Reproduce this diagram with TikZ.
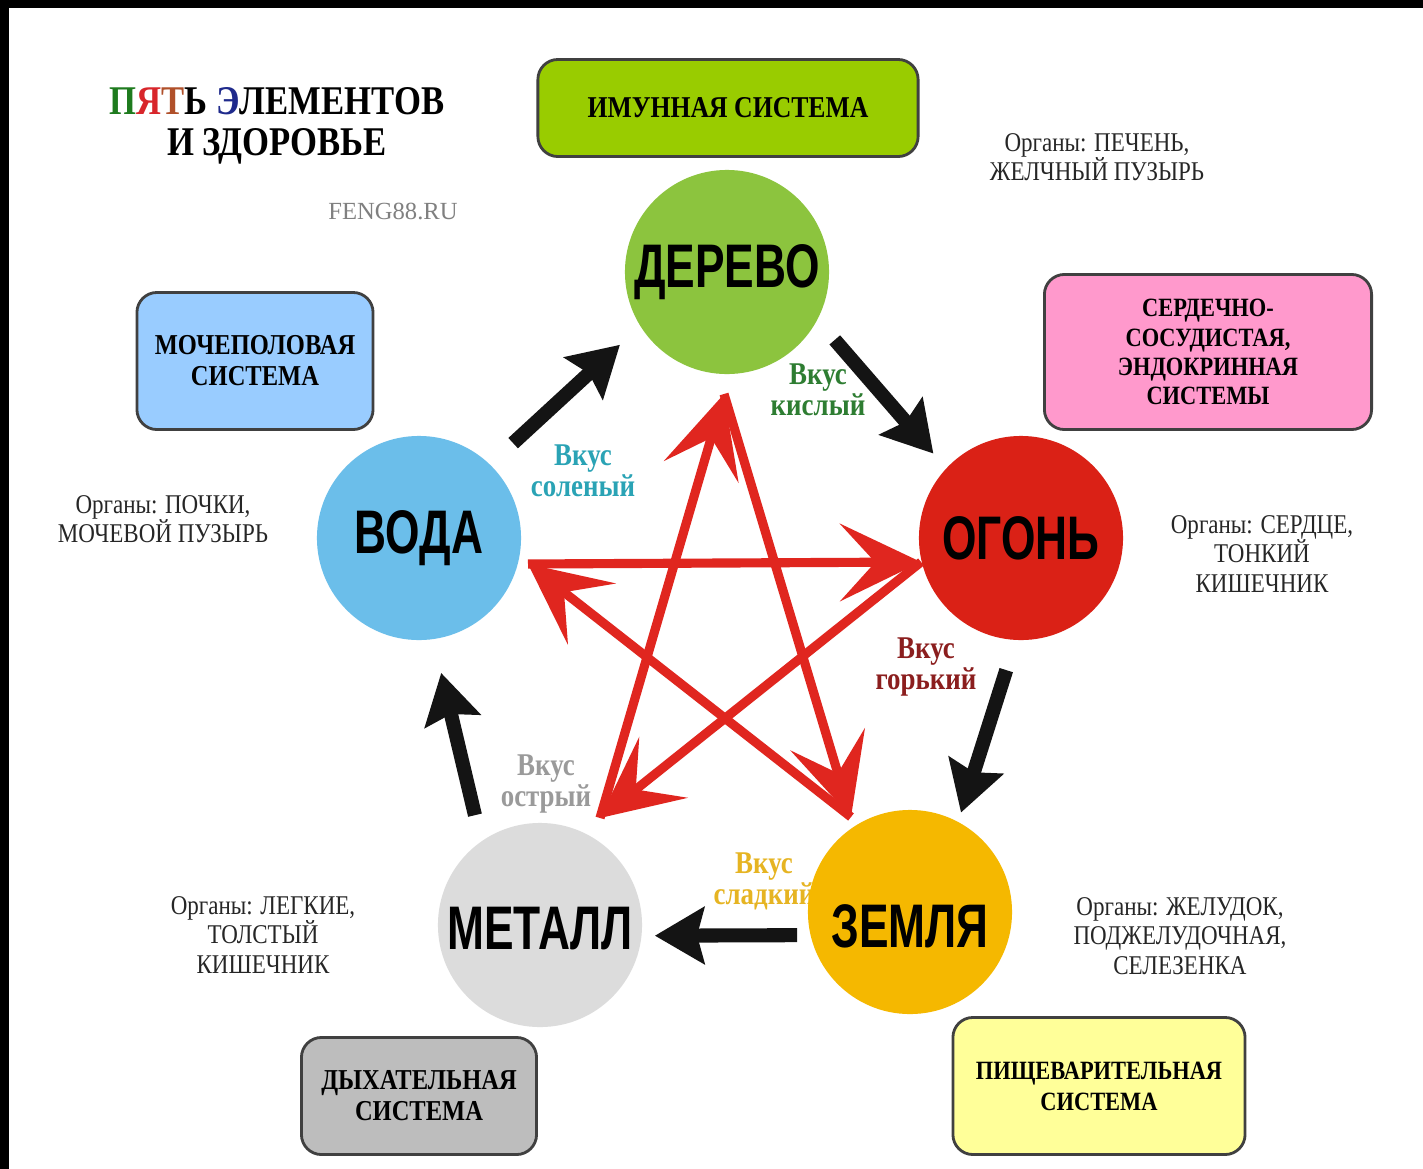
\documentclass[tikz,border=0pt]{standalone}
\usepackage{fontspec}
\setmainfont{Liberation Serif}
\newfontfamily\narrowserif[FakeStretch=0.85]{Liberation Serif}
\newfontfamily\narrowsans[FakeStretch=0.72]{Liberation Sans}
\usetikzlibrary{arrows.meta}

\definecolor{woodgreen}{HTML}{8CC43E}
\definecolor{firered}{HTML}{DA2116}
\definecolor{earthyellow}{HTML}{F5B800}
\definecolor{metalgray}{HTML}{DCDCDC}
\definecolor{waterblue}{HTML}{6BBEEA}
\definecolor{immunegreen}{HTML}{99CC00}
\definecolor{urinblue}{HTML}{99CCFF}
\definecolor{cardiopink}{HTML}{FF99CC}
\definecolor{respgray}{HTML}{BDBDBD}
\definecolor{digestyellow}{HTML}{FFFF99}
\definecolor{starred}{HTML}{E0261F}
\definecolor{arrowblack}{HTML}{141414}
\definecolor{sourgreen}{HTML}{2E7D32}
\definecolor{saltteal}{HTML}{2AA3B5}
\definecolor{bitterred}{HTML}{8B1E1E}
\definecolor{spicygray}{HTML}{9A9A9A}
\definecolor{sweetgold}{HTML}{E6B422}
\definecolor{titlegreen}{HTML}{1E7B1E}
\definecolor{titlered}{HTML}{D8262B}
\definecolor{titlebrown}{HTML}{B0502A}
\definecolor{titleblue}{HTML}{1F2A8C}

\begin{document}
\begin{tikzpicture}[x=0.01cm, y=-0.01cm]
\tikzstyle{element} = [circle, minimum size=2.04cm, inner sep=0pt, font=\narrowsans\bfseries\fontsize{17.5}{20}\selectfont]
\tikzstyle{system} = [draw=black!75, line width=0.8pt, rounded corners=2mm, align=center, font=\narrowserif\bfseries\fontsize{8.2}{8.8}\selectfont]
\tikzstyle{organs} = [align=center, text=black!85, font=\narrowserif\fontsize{7.7}{8.3}\selectfont]
\tikzstyle{taste} = [align=center, font=\narrowserif\bfseries\fontsize{9}{8.8}\selectfont]
\tikzstyle{feed} = [-{Stealth[length=14pt, width=16pt, inset=2pt]}, line width=4pt, draw=arrowblack]
\tikzstyle{control} = [-{Stealth[length=23pt, width=22pt, inset=10pt]}, line width=2.6pt, draw=starred]

% background and frame
\fill[black] (0,0) rectangle (1423,1169);
\fill[white] (9,8) rectangle (1423,1169);
\useasboundingbox (0,0) rectangle (1423,1169);

% title
\node[align=center, font=\narrowserif\bfseries\fontsize{11.6}{11.7}\selectfont] (title) at (277,126)
  {\textcolor{titlegreen}{П}\textcolor{titlered}{Я}\textcolor{titlebrown}{Т}Ь \textcolor{titleblue}{Э}ЛЕМЕНТОВ\\И ЗДОРОВЬЕ};
\node[text=gray, font=\fontsize{7}{8}\selectfont] (site) at (393,211) {FENG88.RU};

% tastes
\node[taste, text=sourgreen] (sour) at (818,390) {Вкус\\кислый};
\node[taste, text=saltteal] (salty) at (583,471) {Вкус\\соленый};
\node[taste, text=bitterred] (bitter) at (926,667) {Вкус\\горький};
\node[taste, text=spicygray] (spicy) at (546,784) {Вкус\\острый};
\node[taste, text=sweetgold] (sweet) at (764,881) {Вкус\\сладкий};

% elements
\node[element, fill=woodgreen] (wood) at (727,272) {ДЕРЕВО};
\node[element, fill=firered] (fire) at (1021,538) {ОГОНЬ};
\node[element, fill=earthyellow] (earth) at (910,912) {\raisebox{-4pt}[\height][\depth]{ЗЕМЛЯ}};
\node[element, fill=metalgray] (metal) at (540,925) {\raisebox{-1pt}[\height][\depth]{МЕТАЛЛ}};
\node[element, fill=waterblue] (water) at (419,538) {ВОДА};

% generating cycle
\draw[feed, shorten <=8.8pt, shorten >=7.7pt] (water.46) -- (wood.212);
\draw[feed, shorten <=7.4pt, shorten >=5.4pt] (wood.-28) -- (fire.137);
\draw[feed, shorten <=8.8pt, shorten >=2.6pt] (fire.-93) -- (earth.62);
\draw[feed, shorten <=3.6pt, shorten >=3.6pt] (earth.193) -- (metal.-6);
\draw[feed, shorten <=7.5pt, shorten >=9.7pt] (metal.125) -- (water.-82);

% controlling star
\coordinate (st) at (724,394);
\coordinate (sr) at (921,562);
\coordinate (sbr) at (851,817);
\coordinate (sbl) at (600,818);
\coordinate (sl) at (528,564);
\draw[control] (st) -- (sbr);
\draw[control] (sl) -- (sr);
\draw[control] (sr) -- (sbl);
\draw[control] (sbr) -- (sl);
\draw[control] (sbl) -- (st);

% systems
\node[system, fill=immunegreen, minimum width=3.8cm, minimum height=0.97cm, font=\narrowserif\bfseries\fontsize{8.6}{8.8}\selectfont] (immune) at (728,108) {ИМУННАЯ СИСТЕМА};
\node[system, fill=urinblue, minimum width=2.36cm, minimum height=1.37cm] (urinary) at (255,361) {МОЧЕПОЛОВАЯ\\СИСТЕМА};
\node[system, fill=cardiopink, minimum width=3.27cm, minimum height=1.55cm, font=\narrowserif\bfseries\fontsize{7.5}{8.3}\selectfont] (cardio) at (1208,352) {СЕРДЕЧНО-\\СОСУДИСТАЯ,\\ЭНДОКРИННАЯ\\СИСТЕМЫ};
\node[system, fill=respgray, minimum width=2.35cm, minimum height=1.17cm] (resp) at (419,1096) {ДЫХАТЕЛЬНАЯ\\СИСТЕМА};
\node[system, fill=digestyellow, minimum width=2.92cm, minimum height=1.37cm, font=\narrowserif\bfseries\fontsize{7.5}{8.8}\selectfont] (digest) at (1099,1086) {ПИЩЕВАРИТЕЛЬНАЯ\\СИСТЕМА};

% organs
\node[organs] (woodorgans) at (1097,157) {Органы: ПЕЧЕНЬ,\\ЖЕЛЧНЫЙ ПУЗЫРЬ};
\node[organs] (fireorgans) at (1262,554) {Органы: СЕРДЦЕ,\\ТОНКИЙ\\КИШЕЧНИК};
\node[organs] (earthorgans) at (1180,936) {Органы: ЖЕЛУДОК,\\ПОДЖЕЛУДОЧНАЯ,\\СЕЛЕЗЕНКА};
\node[organs] (metalorgans) at (263,935) {Органы: ЛЕГКИЕ,\\ТОЛСТЫЙ\\КИШЕЧНИК};
\node[organs] (waterorgans) at (163,519) {Органы: ПОЧКИ,\\МОЧЕВОЙ ПУЗЫРЬ};
\end{tikzpicture}
\end{document}
